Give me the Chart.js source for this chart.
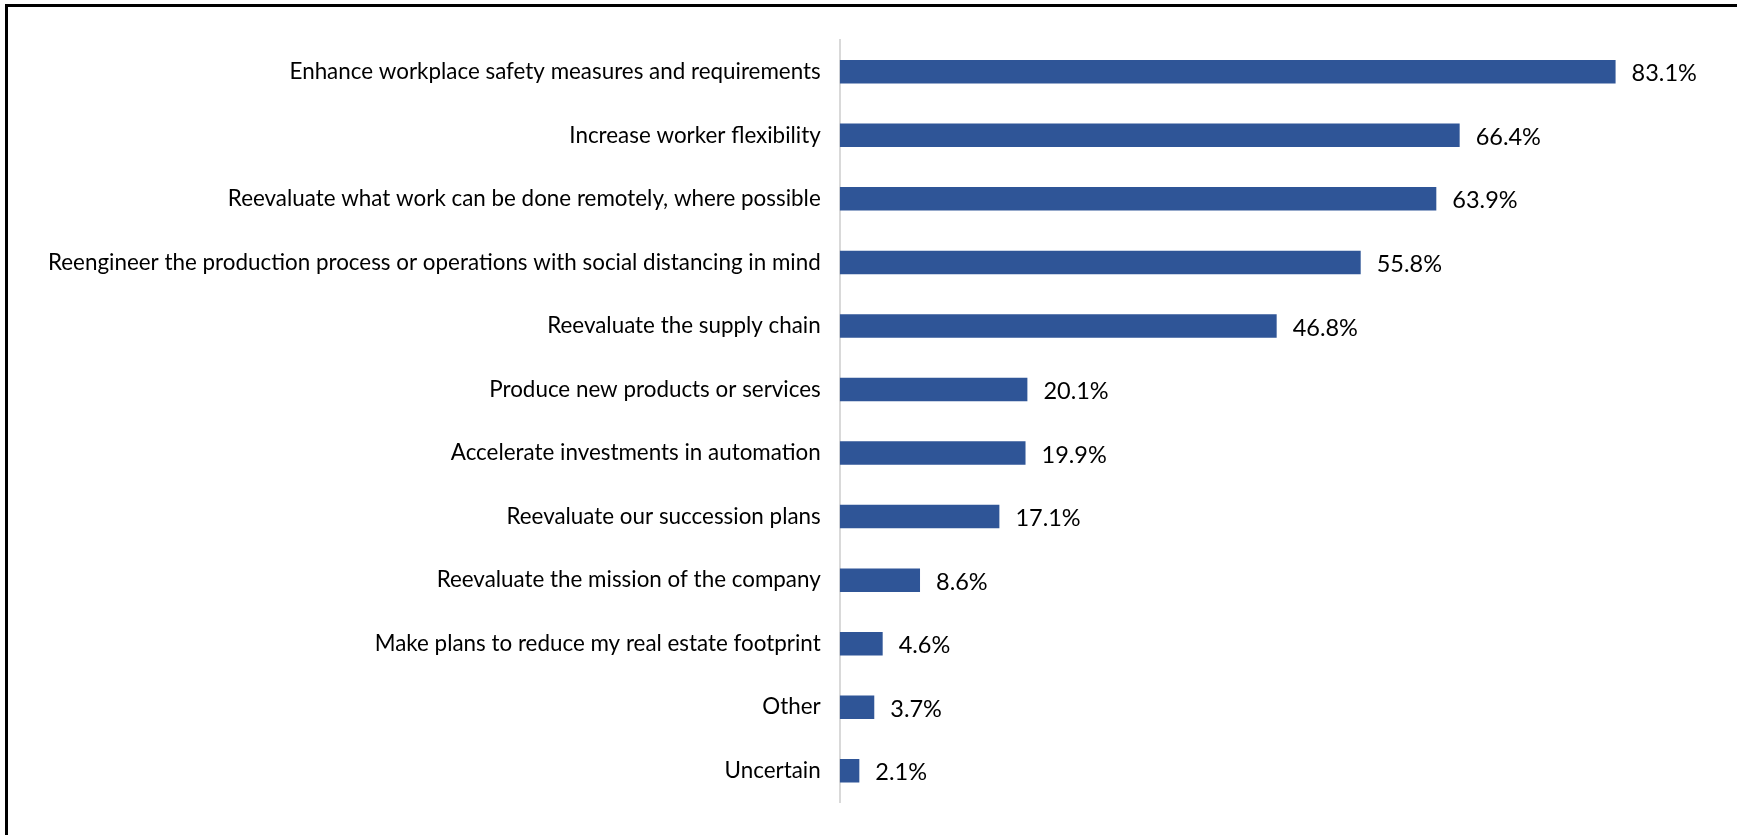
<!DOCTYPE html>
<html>
<head>
<meta charset="utf-8">
<script src="https://cdn.jsdelivr.net/npm/chart.js@4"></script>
<style>
  html, body { margin: 0; padding: 0; background: #fff; overflow: hidden; }
  #wrap { position: absolute; left: 0; top: 0; width: 1737px; height: 835px; }
  #frame { position: absolute; left: 5px; top: 4px; width: 1800px; height: 900px;
           border-top: 3px solid #000; border-left: 3px solid #000; pointer-events: none; }
</style>
</head>
<body>
<div id="wrap"><canvas id="chart"></canvas></div>
<div id="frame"></div>
<script>
const categorias = [
    'Enhance workplace safety measures and requirements',
    'Increase worker flexibility',
    'Reevaluate what work can be done remotely, where possible',
    'Reengineer the production process or operations with social distancing in mind',
    'Reevaluate the supply chain',
    'Produce new products or services',
    'Accelerate investments in automation',
    'Reevaluate our succession plans',
    'Reevaluate the mission of the company',
    'Make plans to reduce my real estate footprint',
    'Other',
    'Uncertain'
];
const porcentajes = [83.1, 66.4, 63.9, 55.8, 46.8, 20.1, 19.9, 17.1, 8.6, 4.6, 3.7, 2.1];

const fuente = 'Lato, "Open Sans", sans-serif';

// etiquetas de valor al final de cada barra
const etiquetasValor = {
    id: 'etiquetasValor',
    afterDatasetsDraw(chart) {
        const ctx = chart.ctx;
        const meta = chart.getDatasetMeta(0);
        ctx.save();
        ctx.font = '23.5px ' + fuente;
        ctx.fillStyle = '#000';
        ctx.textAlign = 'left';
        ctx.textBaseline = 'middle';
        meta.data.forEach((bar, i) => {
            ctx.fillText(porcentajes[i].toFixed(1) + '%', bar.x + 16, bar.y + 2);
        });
        ctx.restore();
    }
};

new Chart(document.getElementById('chart'), {
    type: 'bar',
    data: {
        labels: categorias,
        datasets: [{
            data: porcentajes,
            backgroundColor: '#2F5597',
            borderWidth: 0,
            categoryPercentage: 1,
            barPercentage: 0.37
        }]
    },
    options: {
        indexAxis: 'y',
        responsive: true,
        maintainAspectRatio: false,
        animation: false,
        layout: { padding: { top: 40, bottom: 31, right: 57, left: 29 } },
        plugins: {
            legend: { display: false },
            tooltip: { enabled: false }
        },
        scales: {
            x: {
                display: false,
                min: 0,
                max: 90
            },
            y: {
                grid: { display: false, drawTicks: false },
                border: { display: true, color: '#D9D9D9', width: 2 },
                ticks: {
                    color: '#000',
                    padding: 19,
                    font: { family: fuente, size: 22.4 }
                }
            }
        }
    },
    plugins: [etiquetasValor]
});
</script>
</body>
</html>
